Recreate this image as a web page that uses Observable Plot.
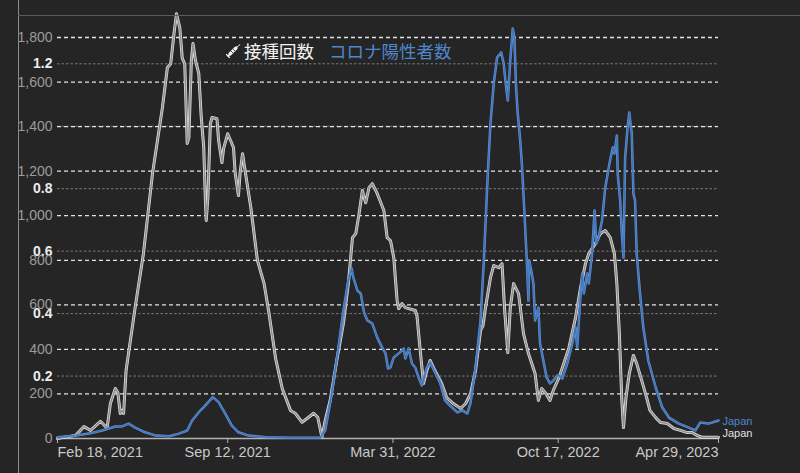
<!DOCTYPE html>
<html>
<head>
<meta charset="utf-8">
<script src="https://cdn.jsdelivr.net/npm/d3@7"></script>
<script src="https://cdn.jsdelivr.net/npm/@observablehq/plot@0.6"></script>
<style>
  html, body { margin: 0; padding: 0; background: #252525; }
  #wrap { position: relative; width: 800px; height: 473px; overflow: hidden; background: #252525; }
  #shade { position: absolute; left: 0; top: 0; width: 18px; height: 473px; background: rgba(37,37,37,0.55); }
  #vline { position: absolute; left: 18px; top: 0; width: 1px; height: 473px; background: #8c8c8c; }
  #hline { position: absolute; left: 18px; top: 15px; right: 0; height: 1px; background: #5a5a5a; }
  #legend { position: absolute; left: 226px; top: 40px; display: flex; align-items: center; font-family: "Noto Sans CJK JP", sans-serif; font-size: 17.5px; line-height: 22px; }
  #legend .vax { color: #f2f2f2; margin-left: 3px; }
  #legend .cases { color: #4f86cc; margin-left: 15px; }
</style>
</head>
<body>
<div id="wrap">
  <div id="chart"></div>
  <div id="shade"></div>
  <div id="vline"></div>
  <div id="hline"></div>
  <div id="legend">
    <svg width="15" height="14" viewBox="0 0 15 14">
      <g stroke="#f2f2f2" stroke-linecap="round" fill="none">
        <line x1="4" y1="10" x2="10" y2="4" stroke-width="3.2"/>
        <line x1="10" y1="4" x2="14" y2="0.5" stroke-width="1"/>
        <line x1="2" y1="12" x2="4" y2="10" stroke-width="1.2"/>
        <line x1="0.5" y1="10.5" x2="3.5" y2="13.5" stroke-width="1.2"/>
        <line x1="5" y1="7" x2="7" y2="9" stroke="#252525" stroke-width="0.8"/>
        <line x1="7" y1="5" x2="9" y2="7" stroke="#252525" stroke-width="0.8"/>
      </g>
    </svg>
    <span class="vax">接種回数</span>
    <span class="cases">コロナ陽性者数</span>
  </div>
</div>
<script>
// Daily vaccine doses per 100 people (white line)
const vaxDates = ["2021-02-18","2021-03-12","2021-03-22","2021-03-30","2021-04-11","2021-04-19","2021-04-23","2021-04-29","2021-05-02","2021-05-05","2021-05-07","2021-05-09","2021-05-12","2021-05-23","2021-06-02","2021-06-13","2021-06-25","2021-07-01","2021-07-05","2021-07-09","2021-07-12","2021-07-16","2021-07-19","2021-07-22","2021-07-25","2021-07-27","2021-07-30","2021-08-01","2021-08-04","2021-08-08","2021-08-11","2021-08-14","2021-08-16","2021-08-17","2021-08-19","2021-08-22","2021-08-24","2021-08-30","2021-09-01","2021-09-05","2021-09-07","2021-09-12","2021-09-19","2021-09-21","2021-09-25","2021-09-27","2021-09-30","2021-10-03","2021-10-10","2021-10-18","2021-10-26","2021-11-01","2021-11-09","2021-11-17","2021-11-27","2021-12-03","2021-12-11","2021-12-17","2021-12-25","2021-12-30","2022-01-04","2022-01-08","2022-01-14","2022-01-22","2022-01-30","2022-02-05","2022-02-10","2022-02-14","2022-02-18","2022-02-22","2022-02-26","2022-03-02","2022-03-06","2022-03-12","2022-03-20","2022-03-24","2022-03-28","2022-04-01","2022-04-05","2022-04-07","2022-04-11","2022-04-15","2022-04-19","2022-04-27","2022-04-29","2022-05-03","2022-05-07","2022-05-11","2022-05-15","2022-05-19","2022-05-29","2022-06-04","2022-06-12","2022-06-21","2022-06-27","2022-07-03","2022-07-09","2022-07-15","2022-07-18","2022-07-21","2022-07-27","2022-07-31","2022-08-06","2022-08-10","2022-08-13","2022-08-17","2022-08-20","2022-08-24","2022-08-30","2022-09-05","2022-09-11","2022-09-19","2022-09-23","2022-09-27","2022-10-02","2022-10-07","2022-10-11","2022-10-18","2022-10-22","2022-10-30","2022-11-07","2022-11-13","2022-11-19","2022-11-23","2022-12-01","2022-12-07","2022-12-13","2022-12-19","2022-12-24","2022-12-27","2022-12-30","2023-01-02","2023-01-04","2023-01-07","2023-01-11","2023-01-16","2023-01-20","2023-01-26","2023-02-01","2023-02-05","2023-02-12","2023-02-18","2023-02-26","2023-03-06","2023-03-14","2023-03-22","2023-03-28","2023-04-03","2023-04-09","2023-04-21","2023-04-29"];
const vaxValues = [0,0.01,0.038,0.026,0.055,0.033,0.112,0.16,0.147,0.08,0.09,0.08,0.218,0.42,0.592,0.849,1.06,1.188,1.2,1.297,1.36,1.316,1.217,1.2,0.945,0.964,1.21,1.265,1.21,1.169,1.028,0.932,0.762,0.698,0.771,1.008,1.028,1.024,0.954,0.884,0.928,0.976,0.932,0.851,0.778,0.851,0.912,0.858,0.739,0.57,0.496,0.4,0.256,0.16,0.09,0.08,0.052,0.064,0.081,0.068,0.004,0.058,0.122,0.25,0.368,0.496,0.643,0.656,0.72,0.794,0.755,0.803,0.816,0.784,0.73,0.643,0.634,0.579,0.442,0.416,0.432,0.419,0.416,0.41,0.394,0.282,0.176,0.218,0.25,0.227,0.176,0.131,0.112,0.096,0.112,0.144,0.218,0.346,0.362,0.419,0.515,0.554,0.547,0.56,0.419,0.275,0.419,0.496,0.464,0.336,0.272,0.208,0.122,0.16,0.144,0.122,0.154,0.195,0.227,0.291,0.387,0.483,0.56,0.592,0.624,0.656,0.666,0.643,0.592,0.496,0.336,0.122,0.035,0.131,0.208,0.266,0.24,0.186,0.131,0.09,0.067,0.051,0.048,0.032,0.026,0.019,0.019,0.01,0.004,0.004,0.004];

// Daily new confirmed cases per million (blue line)
const caseDates = ["2021-02-18","2021-03-12","2021-03-28","2021-04-13","2021-04-29","2021-05-07","2021-05-15","2021-05-23","2021-06-04","2021-06-17","2021-07-03","2021-07-15","2021-07-25","2021-07-31","2021-08-08","2021-08-14","2021-08-25","2021-09-01","2021-09-09","2021-09-17","2021-09-25","2021-10-07","2021-10-28","2021-11-29","2022-01-02","2022-01-08","2022-01-16","2022-01-24","2022-01-30","2022-02-05","2022-02-09","2022-02-11","2022-02-16","2022-02-20","2022-02-24","2022-02-28","2022-03-06","2022-03-12","2022-03-18","2022-03-22","2022-03-25","2022-03-28","2022-04-01","2022-04-07","2022-04-11","2022-04-13","2022-04-15","2022-04-19","2022-04-23","2022-04-27","2022-05-01","2022-05-05","2022-05-11","2022-05-15","2022-05-21","2022-05-27","2022-06-02","2022-06-08","2022-06-17","2022-06-23","2022-06-29","2022-07-03","2022-07-09","2022-07-15","2022-07-19","2022-07-23","2022-07-27","2022-07-31","2022-08-04","2022-08-09","2022-08-12","2022-08-15","2022-08-17","2022-08-20","2022-08-23","2022-08-25","2022-08-27","2022-08-29","2022-09-01","2022-09-03","2022-09-06","2022-09-09","2022-09-11","2022-09-12","2022-09-15","2022-09-17","2022-09-19","2022-09-23","2022-09-25","2022-09-29","2022-10-03","2022-10-07","2022-10-11","2022-10-16","2022-10-18","2022-10-22","2022-10-28","2022-11-03","2022-11-07","2022-11-09","2022-11-12","2022-11-15","2022-11-17","2022-11-21","2022-11-23","2022-11-27","2022-11-30","2022-12-02","2022-12-05","2022-12-09","2022-12-13","2022-12-18","2022-12-22","2022-12-24","2022-12-27","2022-12-28","2022-12-31","2023-01-02","2023-01-04","2023-01-06","2023-01-09","2023-01-11","2023-01-14","2023-01-16","2023-01-18","2023-01-20","2023-01-24","2023-01-28","2023-02-03","2023-02-12","2023-02-20","2023-02-28","2023-03-12","2023-03-24","2023-04-01","2023-04-07","2023-04-17","2023-04-29"];
const caseValues = [6,13,22,36,54,54,67,49,28,13,10,22,36,81,118,141,186,163,112,58,28,13,6,3,3,36,202,408,575,709,763,723,664,651,566,530,516,453,408,382,314,319,364,382,395,404,359,404,337,319,274,238,319,341,296,251,171,148,117,126,112,162,319,530,799,1127,1414,1594,1710,1733,1683,1576,1517,1697,1840,1800,1576,1459,1338,1234,1023,799,619,799,741,696,530,588,426,350,274,247,260,283,283,269,337,426,498,408,588,741,651,741,696,830,1023,875,902,979,1127,1234,1306,1279,1360,1190,1068,920,812,1261,1396,1463,1369,1100,1068,830,651,498,350,229,139,94,67,49,36,72,67,81];

const caseTicks = [0,200,400,600,800,1000,1200,1400,1600,1800];
const vaxTicks = [0.2,0.4,0.6,0.8,1.0,1.2];
const vaxTickLabels = ["0.2","0.4","0.6","0.8","","1.2"]; // 1.0 hidden behind 1,400 in the original
const dateTicks = ["2021-02-18","2021-09-12","2022-03-31","2022-10-17","2023-04-29"];
const seriesLabel = "Japan";

const parse = d3.utcParse("%Y-%m-%d");
// the right-hand quantity (doses per 100) drawn on the cases scale: 1.2 ↔ 1682
const vaxToCases = d3.scaleLinear([0, 1.2], [0, 1682]);

const vax = vaxDates.map((d, i) => ({date: parse(d), v: vaxValues[i]}));
const cases = caseDates.map((d, i) => ({date: parse(d), v: caseValues[i]}));
const ticks = dateTicks.map(parse);
const fmt = d3.utcFormat("%b %-d, %Y");
const lastVax = vax[vax.length - 1];
const lastCase = cases[cases.length - 1];

const blue = "#4f86cc";
const font = "Liberation Sans, Arial, sans-serif";

const chart = Plot.plot({
  width: 800,
  height: 473,
  marginLeft: 57,
  marginRight: 82,
  marginTop: 37,
  marginBottom: 35,
  style: {background: "transparent", fontFamily: font, overflow: "visible"},
  x: {type: "utc", domain: [ticks[0], ticks[ticks.length - 1]], axis: null},
  y: {domain: [0, 1800], axis: null},
  marks: [
    // secondary grid (doses per 100)
    Plot.ruleY(vaxTicks, {y: d => vaxToCases(d), stroke: "#7a7a7a", strokeWidth: 1, strokeDasharray: "2.5,2"}),
    // primary grid (cases per million)
    Plot.ruleY(caseTicks.filter(d => d > 0), {stroke: "#e4e4e4", strokeWidth: 1.3, strokeDasharray: "4,3"}),
    // baseline
    Plot.ruleY([0], {stroke: "#b4b4b4", strokeWidth: 1.6}),
    Plot.axisX(ticks, {ticks: ticks, tickSize: 5, tickFormat: () => "", stroke: "#b4b4b4"}),
    // x labels
    Plot.text([ticks[0]], {x: d => d, text: d => fmt(d), frameAnchor: "bottom", dy: 18, textAnchor: "start", fill: "#c8c8c8", fontSize: 14.5}),
    Plot.text(ticks.slice(1, -1), {x: d => d, text: d => fmt(d), frameAnchor: "bottom", dy: 18, textAnchor: "middle", fill: "#c8c8c8", fontSize: 14.5}),
    Plot.text([ticks[ticks.length - 1]], {x: d => d, text: d => fmt(d), frameAnchor: "bottom", dy: 18, textAnchor: "end", fill: "#c8c8c8", fontSize: 14.5}),
    // y labels
    Plot.text(vaxTicks, {y: d => vaxToCases(d), text: (d, i) => vaxTickLabels[i], frameAnchor: "left", dx: -5, textAnchor: "end", fill: "#ececec", fontSize: 14, fontWeight: "bold"}),
    Plot.text(caseTicks, {y: d => d, text: d => d3.format(",")(d), frameAnchor: "left", dx: -5, textAnchor: "end", fill: "#9c9c9c", fontSize: 14}),
    // vaccination line (light grey with halo)
    Plot.line(vax, {x: "date", y: d => vaxToCases(d.v), stroke: "#dedede", strokeWidth: 3.0}),
    Plot.line(vax, {x: "date", y: d => vaxToCases(d.v), stroke: "#8e8e8e", strokeWidth: 1.5}),
    // cases line
    Plot.line(cases, {x: "date", y: "v", stroke: "#6494d6", strokeWidth: 2.5}),
    Plot.line(cases, {x: "date", y: "v", stroke: "#3f74bc", strokeWidth: 1.3}),
    // end labels
    Plot.text([lastCase], {x: "date", y: "v", text: () => seriesLabel, dx: 4, dy: 1, textAnchor: "start", fill: blue, fontSize: 11}),
    Plot.text([lastVax], {x: "date", y: d => vaxToCases(d.v), text: () => seriesLabel, dx: 4, dy: -4, textAnchor: "start", fill: "#e0e0e0", fontSize: 11})
  ]
});
document.getElementById("chart").appendChild(chart);
</script>
</body>
</html>
